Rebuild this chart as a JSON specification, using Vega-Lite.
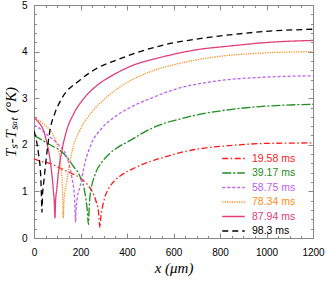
{
 "$schema": "https://vega.github.io/schema/vega-lite/v6.json",
 "width": 279, "height": 233,
 "autosize": {"type": "none"},
 "padding": {"left": 34, "top": 5, "right": 14, "bottom": 43},
 "background": "white",
 "config": {"view": {"stroke": null}, "font": "Liberation Sans"},
 "data": {"values": [
  {"s":"19.58 ms","x":0,"T":1.7},{"s":"19.58 ms","x":26,"T":1.65},{"s":"19.58 ms","x":69,"T":1.6},{"s":"19.58 ms","x":112,"T":1.5},{"s":"19.58 ms","x":155,"T":1.4},{"s":"19.58 ms","x":198,"T":1.29},{"s":"19.58 ms","x":227,"T":1.16},{"s":"19.58 ms","x":250,"T":1.0},{"s":"19.58 ms","x":266,"T":0.8},{"s":"19.58 ms","x":277,"T":0.58},{"s":"19.58 ms","x":284,"T":0.22},{"s":"19.58 ms","x":287,"T":0.42},{"s":"19.58 ms","x":293,"T":0.62},{"s":"19.58 ms","x":305,"T":0.88},{"s":"19.58 ms","x":320,"T":1.05},{"s":"19.58 ms","x":341,"T":1.2},{"s":"19.58 ms","x":370,"T":1.33},{"s":"19.58 ms","x":427,"T":1.49},{"s":"19.58 ms","x":499,"T":1.64},{"s":"19.58 ms","x":571,"T":1.75},{"s":"19.58 ms","x":642,"T":1.85},{"s":"19.58 ms","x":707,"T":1.91},{"s":"19.58 ms","x":857,"T":1.99},{"s":"19.58 ms","x":1001,"T":2.03},{"s":"19.58 ms","x":1200,"T":2.04},
  {"s":"39.17 ms","x":0,"T":2.2},{"s":"39.17 ms","x":69,"T":2.0},{"s":"39.17 ms","x":126,"T":1.82},{"s":"39.17 ms","x":169,"T":1.54},{"s":"39.17 ms","x":198,"T":1.32},{"s":"39.17 ms","x":219,"T":0.97},{"s":"39.17 ms","x":229,"T":0.6},{"s":"39.17 ms","x":234,"T":0.29},{"s":"39.17 ms","x":237,"T":0.6},{"s":"39.17 ms","x":241,"T":0.9},{"s":"39.17 ms","x":262,"T":1.35},{"s":"39.17 ms","x":291,"T":1.62},{"s":"39.17 ms","x":327,"T":1.82},{"s":"39.17 ms","x":362,"T":1.95},{"s":"39.17 ms","x":420,"T":2.11},{"s":"39.17 ms","x":463,"T":2.24},{"s":"39.17 ms","x":528,"T":2.4},{"s":"39.17 ms","x":585,"T":2.5},{"s":"39.17 ms","x":642,"T":2.57},{"s":"39.17 ms","x":707,"T":2.65},{"s":"39.17 ms","x":850,"T":2.76},{"s":"39.17 ms","x":1000,"T":2.83},{"s":"39.17 ms","x":1200,"T":2.87},
  {"s":"58.75 ms","x":0,"T":2.42},{"s":"58.75 ms","x":30,"T":2.33},{"s":"58.75 ms","x":55,"T":2.22},{"s":"58.75 ms","x":98,"T":2.04},{"s":"58.75 ms","x":140,"T":1.75},{"s":"58.75 ms","x":162,"T":1.32},{"s":"58.75 ms","x":174,"T":0.9},{"s":"58.75 ms","x":179,"T":0.33},{"s":"58.75 ms","x":181,"T":0.6},{"s":"58.75 ms","x":186,"T":0.85},{"s":"58.75 ms","x":198,"T":1.1},{"s":"58.75 ms","x":219,"T":1.61},{"s":"58.75 ms","x":248,"T":2.04},{"s":"58.75 ms","x":291,"T":2.35},{"s":"58.75 ms","x":356,"T":2.63},{"s":"58.75 ms","x":413,"T":2.8},{"s":"58.75 ms","x":499,"T":2.99},{"s":"58.75 ms","x":599,"T":3.18},{"s":"58.75 ms","x":771,"T":3.36},{"s":"58.75 ms","x":986,"T":3.45},{"s":"58.75 ms","x":1200,"T":3.48},
  {"s":"78.34 ms","x":0,"T":2.58},{"s":"78.34 ms","x":40,"T":2.45},{"s":"78.34 ms","x":83,"T":2.2},{"s":"78.34 ms","x":100,"T":2.0},{"s":"78.34 ms","x":112,"T":1.68},{"s":"78.34 ms","x":122,"T":1.11},{"s":"78.34 ms","x":126,"T":0.43},{"s":"78.34 ms","x":129,"T":0.8},{"s":"78.34 ms","x":140,"T":1.18},{"s":"78.34 ms","x":162,"T":1.82},{"s":"78.34 ms","x":198,"T":2.32},{"s":"78.34 ms","x":234,"T":2.61},{"s":"78.34 ms","x":305,"T":2.99},{"s":"78.34 ms","x":384,"T":3.29},{"s":"78.34 ms","x":485,"T":3.54},{"s":"78.34 ms","x":628,"T":3.75},{"s":"78.34 ms","x":771,"T":3.88},{"s":"78.34 ms","x":986,"T":3.97},{"s":"78.34 ms","x":1200,"T":4.0},
  {"s":"87.94 ms","x":0,"T":2.58},{"s":"87.94 ms","x":20,"T":2.48},{"s":"87.94 ms","x":40,"T":2.32},{"s":"87.94 ms","x":55,"T":2.05},{"s":"87.94 ms","x":69,"T":1.68},{"s":"87.94 ms","x":83,"T":1.04},{"s":"87.94 ms","x":88,"T":0.7},{"s":"87.94 ms","x":90,"T":0.43},{"s":"87.94 ms","x":93,"T":0.8},{"s":"87.94 ms","x":98,"T":1.05},{"s":"87.94 ms","x":105,"T":1.4},{"s":"87.94 ms","x":119,"T":1.85},{"s":"87.94 ms","x":140,"T":2.3},{"s":"87.94 ms","x":169,"T":2.65},{"s":"87.94 ms","x":212,"T":2.98},{"s":"87.94 ms","x":270,"T":3.27},{"s":"87.94 ms","x":341,"T":3.5},{"s":"87.94 ms","x":413,"T":3.68},{"s":"87.94 ms","x":556,"T":3.89},{"s":"87.94 ms","x":700,"T":4.04},{"s":"87.94 ms","x":843,"T":4.12},{"s":"87.94 ms","x":986,"T":4.19},{"s":"87.94 ms","x":1200,"T":4.24},
  {"s":"98.3 ms","x":0,"T":2.3},{"s":"98.3 ms","x":10,"T":2.1},{"s":"98.3 ms","x":19,"T":1.82},{"s":"98.3 ms","x":29,"T":1.32},{"s":"98.3 ms","x":32,"T":0.9},{"s":"98.3 ms","x":34,"T":0.55},{"s":"98.3 ms","x":37,"T":0.95},{"s":"98.3 ms","x":42,"T":1.2},{"s":"98.3 ms","x":52,"T":1.68},{"s":"98.3 ms","x":69,"T":2.32},{"s":"98.3 ms","x":90,"T":2.68},{"s":"98.3 ms","x":119,"T":2.99},{"s":"98.3 ms","x":198,"T":3.39},{"s":"98.3 ms","x":270,"T":3.64},{"s":"98.3 ms","x":356,"T":3.82},{"s":"98.3 ms","x":456,"T":4.0},{"s":"98.3 ms","x":556,"T":4.14},{"s":"98.3 ms","x":700,"T":4.27},{"s":"98.3 ms","x":843,"T":4.36},{"s":"98.3 ms","x":986,"T":4.43},{"s":"98.3 ms","x":1200,"T":4.48}
 ]},
 "layer": [
  {"mark": {"type": "line", "interpolate": "monotone", "strokeWidth": 1.3, "clip": true},
   "encoding": {
    "x": {"field": "x", "type": "quantitative", "scale": {"domain": [0, 1200], "nice": false},
      "axis": {"orient": "bottom", "values": [0,200,400,600,800,1000,1200],
        "format": "d", "tickSize": -5,
        "labelPadding": 14, "labelFlush": false, "labelOverlap": false, "labelFontSize": 10, "labelColor": "black",
        "domainColor": "#888", "tickColor": "#888", "grid": false,
        "title": "x (μm)", "titleFont": "Liberation Serif", "titleFontSize": 15, "titleFontWeight": "normal", "titleFontStyle": "italic", "titlePadding": 3, "titleColor": "black"}},
    "y": {"field": "T", "type": "quantitative", "scale": {"domain": [0, 5], "nice": false},
      "axis": {"orient": "left", "values": [0,1,2,3,4,5],
        "format": "d", "tickSize": -5,
        "labelPadding": 12, "labelFlush": false, "labelOverlap": false, "labelFontSize": 10, "labelColor": "black",
        "domainColor": "#888", "tickColor": "#888", "grid": false,
        "title": "Tₛ-Tₛₐₜ (°K)", "titleFont": "Liberation Serif", "titleFontSize": 15, "titleFontWeight": "normal", "titleFontStyle": "italic", "titlePadding": 3, "titleColor": "black"}},
    "color": {"field": "s", "type": "nominal",
      "scale": {"domain": ["19.58 ms","39.17 ms","58.75 ms","78.34 ms","87.94 ms","98.3 ms"], "range": ["#ff1a1a","#1e8c1e","#c060f0","#ff8c1a","#e0407a","#000000"]},
      "legend": {"title": null, "orient": "none", "legendX": 194, "legendY": 148, "symbolType": "M-2.5,0H2.5", "symbolSize": 81, "symbolStrokeWidth": 1.3, "labelFontSize": 10.5, "labelOffset": 13, "rowPadding": 3.5,
        "encode": {"labels": {"update": {"fill": {"scale": "color", "field": "value"}}}}}},
    "strokeDash": {"field": "s", "type": "nominal",
      "scale": {"domain": ["19.58 ms","39.17 ms","58.75 ms","78.34 ms","87.94 ms","98.3 ms"], "range": [[6,2.5,1.5,2.5],[9,2,2,2],[3,2],[1.2,1.2],[1,0],[6,4]]},
      "legend": {"title": null, "orient": "none", "legendX": 194, "legendY": 148, "symbolType": "M-2.5,0H2.5", "symbolSize": 81, "symbolStrokeWidth": 1.3, "labelFontSize": 10.5, "labelOffset": 13, "rowPadding": 3.5,
        "encode": {"labels": {"update": {"fill": {"scale": "color", "field": "value"}}}}}}
   }},
  {"mark": {"type": "line", "strokeOpacity": 0},
   "encoding": {
    "x": {"field": "x", "type": "quantitative",
      "axis": {"orient": "bottom", "values": [0,50,100,150,200,250,300,350,400,450,500,550,600,650,700,750,800,850,900,950,1000,1050,1100,1150,1200],
        "labels": false, "title": null, "grid": false, "domain": false, "tickColor": "#888", "tickSize": -2.5}},
    "y": {"field": "T", "type": "quantitative",
      "axis": {"orient": "left", "values": [0,0.2,0.4,0.6,0.8,1,1.2,1.4,1.6,1.8,2,2.2,2.4,2.6,2.8,3,3.2,3.4,3.6,3.8,4,4.2,4.4,4.6,4.8,5],
        "labels": false, "title": null, "grid": false, "domain": false, "tickColor": "#888", "tickSize": -2.5}},
    "detail": {"field": "s"}
   }},
  {"mark": {"type": "line", "strokeOpacity": 0},
   "encoding": {
    "x": {"field": "x", "type": "quantitative",
      "axis": {"orient": "top", "values": [0,50,100,150,200,250,300,350,400,450,500,550,600,650,700,750,800,850,900,950,1000,1050,1100,1150,1200],
        "labels": false, "title": null, "grid": false, "domainColor": "#888", "tickColor": "#888",
        "tickSize": {"condition": {"test": "datum.value % 200 === 0", "value": -5}, "value": -2.5}}},
    "y": {"field": "T", "type": "quantitative",
      "axis": {"orient": "right", "values": [0,0.2,0.4,0.6,0.8,1,1.2,1.4,1.6,1.8,2,2.2,2.4,2.6,2.8,3,3.2,3.4,3.6,3.8,4,4.2,4.4,4.6,4.8,5],
        "labels": false, "title": null, "grid": false, "domainColor": "#888", "tickColor": "#888",
        "tickSize": {"condition": {"test": "datum.value % 1 === 0", "value": -5}, "value": -2.5}}},
    "detail": {"field": "s"}
   }}
 ],
 "resolve": {"axis": {"x": "independent", "y": "independent"}}
}
